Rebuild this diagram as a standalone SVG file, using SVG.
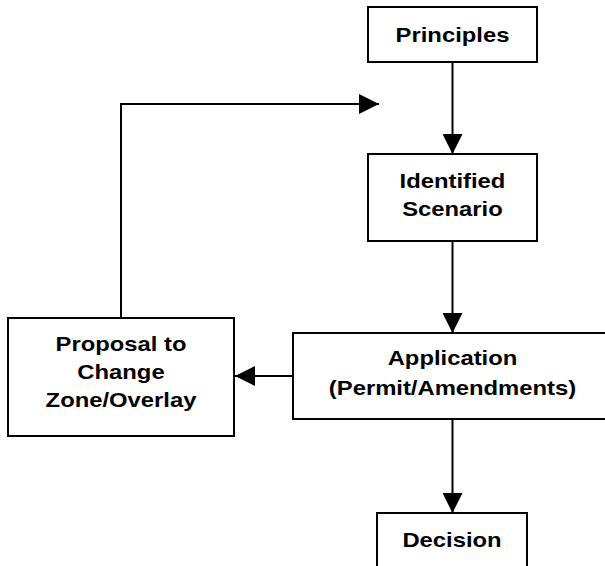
<svg xmlns="http://www.w3.org/2000/svg" width="605" height="566" viewBox="0 0 605 566">
<style>
.box{fill:#fff;stroke:#000;stroke-width:2}
.lbl{font-family:"Liberation Sans",Arial,sans-serif;font-weight:bold;font-size:21px;fill:#000;text-anchor:middle}
.con{fill:none;stroke:#000;stroke-width:2}
</style>
<defs>
<marker id="ah" viewBox="0 0 20 20" refX="20" refY="10" markerWidth="20" markerHeight="20" markerUnits="userSpaceOnUse" orient="auto">
<path d="M0,0 L20,10 L0,20 Z" fill="#000"/>
</marker>
</defs>
<rect width="605" height="566" fill="#fff"/>
<g id="connectors">
<line class="con" x1="452.5" y1="62" x2="452.5" y2="154" marker-end="url(#ah)"/>
<line class="con" x1="452.5" y1="241" x2="452.5" y2="333" marker-end="url(#ah)"/>
<line class="con" x1="452.5" y1="419" x2="452.5" y2="513" marker-end="url(#ah)"/>
<line class="con" x1="293" y1="376" x2="235" y2="376" marker-end="url(#ah)"/>
<polyline class="con" points="121,318 121,104 379,104" marker-end="url(#ah)"/>
</g>
<g id="principles">
<rect class="box" x="368" y="7" width="169" height="55"/>
<text class="lbl" x="452.5" y="41.5" textLength="113.8" lengthAdjust="spacingAndGlyphs">Principles</text>
</g>
<g id="identified-scenario">
<rect class="box" x="368" y="154" width="169" height="87"/>
<text class="lbl" x="452.5" y="188" textLength="105.8" lengthAdjust="spacingAndGlyphs">Identified</text>
<text class="lbl" x="452.5" y="216" textLength="100.5" lengthAdjust="spacingAndGlyphs">Scenario</text>
</g>
<g id="application">
<rect class="box" x="293" y="333" width="320" height="86"/>
<text class="lbl" x="452.5" y="365" textLength="129.6" lengthAdjust="spacingAndGlyphs">Application</text>
<text class="lbl" x="452.5" y="395" textLength="247.3" lengthAdjust="spacingAndGlyphs">(Permit/Amendments)</text>
</g>
<g id="proposal">
<rect class="box" x="8" y="318" width="226" height="118"/>
<text class="lbl" x="121" y="351" textLength="130.9" lengthAdjust="spacingAndGlyphs">Proposal to</text>
<text class="lbl" x="121" y="378.5" textLength="87.3" lengthAdjust="spacingAndGlyphs">Change</text>
<text class="lbl" x="121" y="406.5" textLength="150.8" lengthAdjust="spacingAndGlyphs">Zone/Overlay</text>
</g>
<g id="decision">
<rect class="box" x="377" y="513" width="150" height="70"/>
<text class="lbl" x="452" y="546.7" textLength="99.2" lengthAdjust="spacingAndGlyphs">Decision</text>
</g>
</svg>
